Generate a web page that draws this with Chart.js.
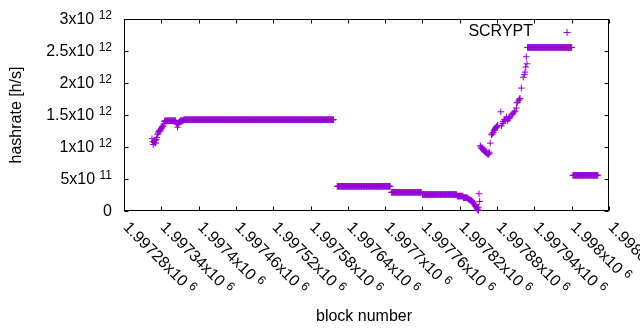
<!DOCTYPE html>
<html>
<head>
<meta charset="utf-8">
<script src="https://cdn.jsdelivr.net/npm/chart.js@4.4.0/dist/chart.umd.min.js"></script>
<style>
  html, body { margin: 0; padding: 0; background: #fff; }
  canvas { display: block; }
</style>
</head>
<body>
<canvas id="hashChart" width="640" height="330"></canvas>
<script>
// axis ticks
const xTicks = [1997280, 1997340, 1997400, 1997460, 1997520, 1997580, 1997640,
  1997700, 1997760, 1997820, 1997880, 1997940, 1998000, 1998060];
const xTickText = ["1.99728x10", "1.99734x10", "1.9974x10", "1.99746x10", "1.99752x10",
  "1.99758x10", "1.99764x10", "1.9977x10", "1.99776x10", "1.99782x10", "1.99788x10",
  "1.99794x10", "1.998x10", "1.99806x10"];
const xTickExp = "6";
const yTicks = [0, 5e11, 1e12, 1.5e12, 2e12, 2.5e12, 3e12];
const yTickText = ["0", "5x10", "1x10", "1.5x10", "2x10", "2.5x10", "3x10"];
const yTickExp = ["", "11", "12", "12", "12", "12", "12"];

// flat stretches: every block from runFirst to runLast has runValue
const runFirst = [1997346, 1997377, 1997623, 1997710, 1997760, 1997816, 1997826, 1997929, 1998002];
const runLast  = [1997363, 1997617, 1997708, 1997758, 1997815, 1997825, 1997832, 1998000, 1998042];
const runValue = [1.41e12, 1.427e12, 3.86e11, 2.92e11, 2.58e11, 2.33e11, 2.08e11, 2.555e12, 5.58e11];

// the remaining blocks, one by one
const blocks = [
  1997325, 1997326, 1997327, 1997328, 1997329, 1997330, 1997331, 1997332, 1997333, 1997334,
  1997335, 1997336, 1997337, 1997338, 1997339, 1997340, 1997341, 1997342, 1997343, 1997344,
  1997345, 1997364, 1997365, 1997366, 1997367, 1997368, 1997369, 1997370, 1997371, 1997372,
  1997373, 1997374, 1997375, 1997376,
  1997833, 1997834, 1997835, 1997836, 1997837, 1997838, 1997839, 1997840, 1997841, 1997842,
  1997843, 1997844, 1997845, 1997846, 1997847, 1997848, 1997849, 1997850, 1997851, 1997852,
  1997850, 1997853, 1997854, 1997855, 1997856, 1997857, 1997858, 1997859, 1997860, 1997861,
  1997862, 1997863, 1997864, 1997865, 1997866, 1997867, 1997868, 1997869, 1997871, 1997872,
  1997873, 1997874, 1997875, 1997876, 1997877, 1997878, 1997879, 1997880, 1997881, 1997886,
  1997887, 1997889, 1997890, 1997892, 1997893, 1997895, 1997897, 1997898, 1997900, 1997901,
  1997903, 1997905, 1997906, 1997908, 1997909, 1997911, 1997912, 1997913, 1997915, 1997916,
  1997917, 1997919, 1997922, 1997924, 1997925, 1997926, 1997927, 1997928
];
const hashrate = [
  1.13e12, 1.08e12, 1.04e12, 1.09e12, 1.07e12, 1.10e12, 1.06e12, 1.12e12, 1.15e12, 1.20e12,
  1.22e12, 1.24e12, 1.26e12, 1.25e12, 1.27e12, 1.29e12, 1.31e12, 1.32e12, 1.33e12, 1.36e12,
  1.40e12, 1.38e12, 1.36e12, 1.31e12, 1.35e12, 1.38e12, 1.39e12, 1.40e12, 1.41e12, 1.40e12,
  1.42e12, 1.41e12, 1.42e12, 1.42e12,
  1.95e11, 1.85e11, 1.80e11, 1.75e11, 1.72e11, 1.68e11, 1.60e11, 1.50e11, 1.38e11, 1.25e11,
  1.10e11, 9.5e10, 8.0e10, 6.5e10, 5.0e10, 3.5e10, 2.0e10, 8e9, 2.7e11, 1.5e11,
  6e10, 1.02e12, 1.00e12, 9.8e11, 9.9e11, 9.6e11, 9.5e11, 9.6e11, 9.3e11, 9.2e11,
  9.35e11, 9.1e11, 9.0e11, 8.9e11, 8.8e11, 9.2e11, 9.05e11, 1.06e12, 1.19e12, 1.20e12,
  1.22e12, 1.23e12, 1.26e12, 1.27e12, 1.29e12, 1.30e12, 1.32e12, 1.31e12, 1.34e12, 1.55e12,
  1.33e12, 1.37e12, 1.40e12, 1.43e12, 1.42e12, 1.47e12, 1.41e12, 1.44e12, 1.45e12, 1.47e12,
  1.50e12, 1.52e12, 1.53e12, 1.55e12, 1.56e12, 1.61e12, 1.69e12, 1.70e12, 1.73e12, 1.75e12,
  1.76e12, 1.92e12, 2.09e12, 2.13e12, 2.17e12, 2.25e12, 2.41e12, 2.30e12
];

const purple = "#9400d3";
const FONT = '"Liberation Sans", Arial, sans-serif';

const points = [];
runFirst.forEach((first, i) => {
  for (let b = first; b <= runLast[i]; b++) points.push({ x: b, y: runValue[i] });
});
blocks.forEach((b, i) => points.push({ x: b, y: hashrate[i] }));

// text with a raised exponent, like gnuplot's enhanced text
function powerLabel(ctx, text, exp, x, y, angle) {
  ctx.save();
  ctx.translate(x, y);
  ctx.rotate(angle);
  ctx.textAlign = "left";
  ctx.textBaseline = "middle";
  ctx.font = "16px " + FONT;
  ctx.fillText(text, 0, 0);
  if (exp) {
    const w = ctx.measureText(text + " ").width;
    ctx.font = "12px " + FONT;
    ctx.fillText(exp, w, -4);
  }
  ctx.restore();
}

function labelWidth(ctx, text, exp) {
  ctx.font = "16px " + FONT;
  let w = ctx.measureText(exp ? text + " " : text).width;
  if (exp) {
    ctx.font = "12px " + FONT;
    w += ctx.measureText(exp).width;
  }
  return w;
}

const gnuplotFrame = {
  id: "gnuplotFrame",
  beforeDatasetsDraw(chart) {
    const { ctx, chartArea: a, scales: { x, y } } = chart;
    const L = Math.round(a.left) + 0.5, R = Math.round(a.right) - 0.5;
    const T = Math.round(a.top) + 0.5, B = Math.round(a.bottom) - 0.5;
    ctx.save();
    ctx.strokeStyle = "#000";
    ctx.lineWidth = 1;
    ctx.strokeRect(L, T, R - L, B - T);
    ctx.beginPath();
    xTicks.forEach(v => {
      const px = Math.round(x.getPixelForValue(v)) + 0.5;
      ctx.moveTo(px, B); ctx.lineTo(px, B - 4);
      ctx.moveTo(px, T); ctx.lineTo(px, T + 4);
    });
    yTicks.forEach(v => {
      const py = Math.round(y.getPixelForValue(v)) + 0.5;
      ctx.moveTo(L, py); ctx.lineTo(L + 4, py);
      ctx.moveTo(R, py); ctx.lineTo(R - 4, py);
    });
    ctx.stroke();

    ctx.fillStyle = "#000";
    yTicks.forEach((v, i) => {
      const w = labelWidth(ctx, yTickText[i], yTickExp[i]);
      powerLabel(ctx, yTickText[i], yTickExp[i], a.left - 12 - w, y.getPixelForValue(v) + 1, 0);
    });
    xTicks.forEach((v, i) => {
      powerLabel(ctx, xTickText[i], xTickExp, x.getPixelForValue(v) + 1.5, a.bottom + 14, Math.PI / 4);
    });

    ctx.font = "16px " + FONT;
    ctx.textAlign = "center";
    ctx.textBaseline = "middle";
    ctx.fillText("block number", 364, 317);
    ctx.save();
    ctx.translate(17, 115);
    ctx.rotate(-Math.PI / 2);
    ctx.fillText("hashrate [h/s]", 0, 0);
    ctx.restore();

    // key
    ctx.textAlign = "right";
    ctx.fillText("SCRYPT", 533, 32);
    ctx.strokeStyle = purple;
    ctx.beginPath();
    ctx.moveTo(563.5, 32.5); ctx.lineTo(570.5, 32.5);
    ctx.moveTo(567, 29); ctx.lineTo(567, 36);
    ctx.stroke();
    ctx.restore();
  }
};

new Chart(document.getElementById("hashChart").getContext("2d"), {
  type: "scatter",
  data: {
    datasets: [{
      label: "SCRYPT",
      data: points,
      pointStyle: "cross",
      pointRadius: 3.3,
      pointHoverRadius: 3.3,
      borderColor: purple,
      backgroundColor: purple,
      borderWidth: 1,
      clip: false
    }]
  },
  options: {
    responsive: false,
    animation: false,
    devicePixelRatio: 1,
    events: [],
    layout: { padding: { left: 124, right: 31, top: 19, bottom: 119 } },
    plugins: { legend: { display: false }, tooltip: { enabled: false } },
    scales: {
      x: { type: "linear", min: 1997280, max: 1998060, display: false },
      y: { type: "linear", min: 0, max: 3e12, display: false }
    }
  },
  plugins: [gnuplotFrame]
});
</script>
</body>
</html>
